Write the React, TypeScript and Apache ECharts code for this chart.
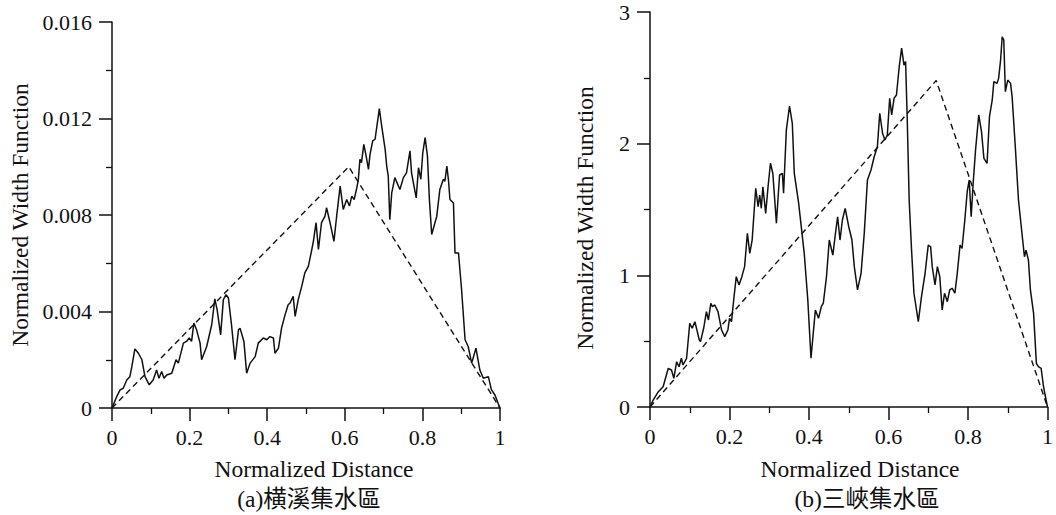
import React, { useEffect, useRef } from "react";
import * as echarts from "echarts";

// (a) 横溪集水區 – normalized width function
const widthA: [number, number][] = [
  [0, 0], [0.012, 0.00047], [0.021, 0.00075], [0.029, 0.00082], [0.038, 0.00116], [0.046, 0.0013],
  [0.051, 0.0017], [0.059, 0.00245], [0.068, 0.00227], [0.077, 0.002], [0.085, 0.0013], [0.096, 0.00096],
  [0.106, 0.00116], [0.115, 0.00158], [0.121, 0.00123], [0.128, 0.00151], [0.134, 0.00123], [0.141, 0.00137],
  [0.154, 0.00144], [0.165, 0.002], [0.171, 0.00186], [0.184, 0.00269], [0.192, 0.00276], [0.199, 0.0029],
  [0.205, 0.00276], [0.211, 0.00352], [0.218, 0.00324], [0.227, 0.00269], [0.231, 0.002], [0.244, 0.00255],
  [0.257, 0.00345], [0.265, 0.00452], [0.271, 0.00407], [0.28, 0.00303], [0.287, 0.00449], [0.294, 0.0047],
  [0.3, 0.00456], [0.308, 0.00345], [0.317, 0.002], [0.326, 0.00324], [0.33, 0.00331], [0.34, 0.00276],
  [0.347, 0.00144], [0.356, 0.00186], [0.369, 0.00213], [0.377, 0.00269], [0.39, 0.0029], [0.399, 0.00283],
  [0.407, 0.00296], [0.416, 0.0029], [0.42, 0.00227], [0.429, 0.00248], [0.437, 0.00331], [0.446, 0.00386],
  [0.454, 0.00428], [0.459, 0.00435], [0.467, 0.00463], [0.472, 0.0038], [0.48, 0.00449], [0.489, 0.00504],
  [0.497, 0.0056], [0.506, 0.00587], [0.515, 0.00657], [0.519, 0.00691], [0.526, 0.00768], [0.532, 0.00657],
  [0.54, 0.00768], [0.549, 0.00795], [0.553, 0.0083], [0.562, 0.00768], [0.572, 0.00691], [0.579, 0.00795],
  [0.588, 0.0092], [0.596, 0.00823], [0.605, 0.00864], [0.612, 0.00837], [0.618, 0.00878], [0.624, 0.00864],
  [0.631, 0.00913], [0.635, 0.00948], [0.639, 0.01031], [0.643, 0.01017], [0.649, 0.01093], [0.655, 0.01044],
  [0.661, 0.00989], [0.665, 0.01051], [0.672, 0.01107], [0.678, 0.01114], [0.684, 0.01183], [0.689, 0.01241],
  [0.695, 0.01169], [0.704, 0.01072], [0.708, 0.01003], [0.712, 0.00961], [0.716, 0.00781], [0.721, 0.00892],
  [0.729, 0.00955], [0.742, 0.00906], [0.751, 0.00955], [0.759, 0.00975], [0.768, 0.01066], [0.772, 0.00975],
  [0.784, 0.00871], [0.79, 0.00996], [0.796, 0.00948], [0.801, 0.01058], [0.807, 0.01121], [0.813, 0.01044],
  [0.818, 0.00864], [0.824, 0.00719], [0.837, 0.00795], [0.845, 0.00906], [0.854, 0.00948], [0.858, 0.0094],
  [0.863, 0.01003], [0.867, 0.00948], [0.871, 0.00864], [0.88, 0.0085], [0.884, 0.00643], [0.893, 0.00643],
  [0.901, 0.0049], [0.91, 0.00283], [0.918, 0.00255], [0.927, 0.00186], [0.938, 0.00248], [0.948, 0.00158],
  [0.957, 0.00123], [0.97, 0.0013], [0.978, 0.00075], [0.987, 0.00054], [0.995, 0.0002], [1, 0],
];
const triangleA: [number, number][] = [[0, 0], [0.61, 0.01], [1, 0]];

// (b) 三峽集水區 – normalized width function
const widthB: [number, number][] = [
  [0, 0], [0.008, 0.053], [0.021, 0.116], [0.033, 0.154], [0.046, 0.294], [0.054, 0.281], [0.06, 0.218],
  [0.067, 0.344], [0.073, 0.306], [0.079, 0.37], [0.083, 0.319], [0.092, 0.37], [0.1, 0.636], [0.106, 0.598],
  [0.113, 0.648], [0.124, 0.509], [0.127, 0.496], [0.135, 0.598], [0.142, 0.724], [0.147, 0.661], [0.153, 0.788],
  [0.157, 0.762], [0.163, 0.775], [0.171, 0.724], [0.18, 0.585], [0.188, 0.534], [0.196, 0.585], [0.2, 0.674],
  [0.205, 0.648], [0.211, 0.826], [0.217, 0.99], [0.224, 0.927], [0.231, 0.99], [0.238, 1.066], [0.245, 1.319],
  [0.251, 1.167], [0.257, 1.268], [0.266, 1.661], [0.272, 1.521], [0.276, 1.61], [0.28, 1.509], [0.284, 1.673],
  [0.291, 1.471], [0.297, 1.673], [0.303, 1.851], [0.309, 1.775], [0.318, 1.395], [0.326, 1.762], [0.333, 1.775],
  [0.336, 1.623], [0.343, 2.104], [0.351, 2.286], [0.358, 2.155], [0.363, 1.775], [0.374, 1.547], [0.388, 1.167],
  [0.397, 0.813], [0.405, 0.37], [0.416, 0.737], [0.424, 0.674], [0.431, 0.762], [0.436, 0.788], [0.444, 0.99],
  [0.451, 1.268], [0.46, 1.154], [0.466, 1.306], [0.472, 1.445], [0.478, 1.268], [0.484, 1.42], [0.491, 1.509],
  [0.5, 1.369], [0.508, 1.268], [0.514, 1.066], [0.522, 0.889], [0.531, 1.015], [0.539, 1.319], [0.547, 1.724],
  [0.556, 1.8], [0.564, 1.901], [0.572, 1.977], [0.578, 2.231], [0.585, 2.079], [0.591, 2.028], [0.597, 2.066],
  [0.603, 2.345], [0.608, 2.218], [0.614, 2.345], [0.62, 2.37], [0.627, 2.585], [0.633, 2.725], [0.639, 2.597],
  [0.643, 2.623], [0.647, 2.205], [0.652, 1.572], [0.658, 1.192], [0.664, 0.864], [0.675, 0.648], [0.683, 0.838],
  [0.692, 1.015], [0.7, 1.23], [0.706, 1.217], [0.71, 1.066], [0.717, 0.927], [0.723, 1.066], [0.729, 0.99],
  [0.735, 0.737], [0.741, 0.864], [0.748, 0.8], [0.754, 0.889], [0.76, 0.902], [0.767, 0.864], [0.773, 1.015],
  [0.78, 1.23], [0.785, 1.205], [0.792, 1.42], [0.798, 1.635], [0.803, 1.724], [0.808, 1.445], [0.813, 1.699],
  [0.819, 1.952], [0.827, 2.218], [0.834, 2.091], [0.84, 1.889], [0.848, 1.851], [0.854, 2.205], [0.861, 2.332],
  [0.865, 2.471], [0.873, 2.458], [0.877, 2.496], [0.882, 2.635], [0.886, 2.812], [0.89, 2.787], [0.894, 2.395],
  [0.9, 2.483], [0.907, 2.458], [0.911, 2.357], [0.919, 1.977], [0.927, 1.572], [0.934, 1.369], [0.942, 1.141],
  [0.946, 1.192], [0.952, 1.116], [0.957, 0.889], [0.965, 0.711], [0.972, 0.332], [0.977, 0.306], [0.984, 0.294],
  [0.99, 0.154], [0.994, 0.091], [1, 0],
];
const triangleB: [number, number][] = [[0, 0], [0.72, 2.48], [1, 0]];

const xAxisTitle = "Normalized Distance";
const yAxisTitle = "Normalized Width Function";
const captionA = "(a)横溪集水區";
const captionB = "(b)三峽集水區";

const FONT = "Liberation Serif, Noto Sans CJK TC, serif";
const INK = "#111";

function xAxisCfg(gridIndex: number) {
  return {
    type: "value",
    gridIndex,
    min: 0,
    max: 1,
    interval: 0.2,
    axisLine: { show: true, onZero: false, lineStyle: { color: INK, width: 1.5 } },
    axisTick: { show: true, inside: false, length: 13, lineStyle: { color: INK, width: 1.5 } },
    minorTick: { show: true, splitNumber: 2, length: 6, lineStyle: { color: INK, width: 1.3 } },
    splitLine: { show: false },
    axisLabel: {
      color: INK,
      fontFamily: FONT,
      fontSize: 22,
      margin: 18,
      formatter: (v: number) => (v === 0 || v === 1 ? String(v) : v.toFixed(1)),
    },
  };
}

function yAxisCfg(gridIndex: number, max: number, interval: number, fmt: (v: number) => string) {
  return {
    type: "value",
    gridIndex,
    min: 0,
    max,
    interval,
    axisLine: { show: true, onZero: false, lineStyle: { color: INK, width: 1.5 } },
    axisTick: { show: true, inside: false, length: 13, lineStyle: { color: INK, width: 1.5 } },
    minorTick: { show: true, splitNumber: 2, length: 6, lineStyle: { color: INK, width: 1.3 } },
    splitLine: { show: false },
    axisLabel: { color: INK, fontFamily: FONT, fontSize: 22, margin: 20, formatter: fmt },
  };
}

function solid(xi: number, data: [number, number][]) {
  return {
    type: "line",
    xAxisIndex: xi,
    yAxisIndex: xi,
    data,
    showSymbol: false,
    symbol: "none",
    lineStyle: { color: INK, width: 1.5 },
    z: 3,
  };
}

function dashed(xi: number, data: [number, number][]) {
  return {
    type: "line",
    xAxisIndex: xi,
    yAxisIndex: xi,
    data,
    showSymbol: false,
    symbol: "none",
    lineStyle: { color: INK, width: 1.4, type: [6, 4] },
    z: 2,
  };
}

function txt(x: number, y: number, text: string, rotation = 0) {
  return {
    type: "text",
    x,
    y,
    rotation,
    style: {
      text,
      fill: INK,
      fontFamily: FONT,
      fontSize: 23.5,
      align: "center",
      verticalAlign: "middle",
    },
  };
}

export default function App() {
  const ref = useRef<HTMLDivElement>(null);
  useEffect(() => {
    document.body.style.margin = "0";
    if (!ref.current) return;
    const chart = echarts.init(ref.current, undefined, { renderer: "svg" });
    chart.setOption({
      animation: false,
      backgroundColor: "#ffffff",
      grid: [
        { left: 112, right: 556, top: 22, bottom: 107 },
        { left: 650, right: 7, top: 12, bottom: 108 },
      ],
      xAxis: [xAxisCfg(0), xAxisCfg(1)],
      yAxis: [
        yAxisCfg(0, 0.016, 0.004, (v: number) => (v === 0 ? "0" : v.toFixed(3))),
        yAxisCfg(1, 3, 1, (v: number) => String(Math.round(v))),
      ],
      series: [solid(0, widthA), dashed(0, triangleA), solid(1, widthB), dashed(1, triangleB)],
      graphic: [
        txt(314, 469, xAxisTitle),
        txt(309, 499, captionA),
        txt(860, 469, xAxisTitle),
        txt(867, 499, captionB),
        txt(20, 215, yAxisTitle, Math.PI / 2),
        txt(585, 218, yAxisTitle, Math.PI / 2),
      ],
    });
    return () => chart.dispose();
  }, []);
  return <div ref={ref} style={{ width: 1056, height: 515 }} />;
}
